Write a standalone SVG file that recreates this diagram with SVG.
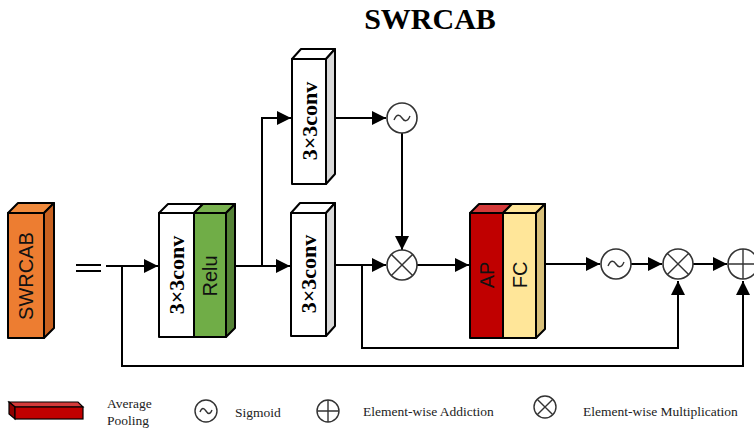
<svg xmlns="http://www.w3.org/2000/svg" width="754" height="430" viewBox="0 0 754 430">
  <style>
    .edge { fill: none; stroke: #000; stroke-width: 2; }
    .box { stroke: #000; stroke-width: 2; stroke-linejoin: round; }
    .op { fill: #fff; stroke: #333; stroke-width: 1.6; }
    .sym { fill: none; stroke: #333; stroke-width: 1.4; }
    .serifb { font-family: "Liberation Serif", "Times New Roman", serif; font-weight: bold; fill: #000; }
    .conv { font-family: "Liberation Serif", "Times New Roman", serif; font-weight: bold; font-size: 22px; fill: #000; }
    .sans { font-family: "Liberation Sans", Arial, sans-serif; fill: #111; }
    .legend { font-family: "Liberation Serif", "Times New Roman", serif; font-size: 13.5px; fill: #222; }
  </style>
  <defs>
    <marker id="arrow" markerUnits="userSpaceOnUse" markerWidth="16" markerHeight="14" refX="14" refY="7" orient="auto">
      <path d="M0,0 L14,7 L0,14 Z" fill="#000"/>
    </marker>
    <g id="sigmoid">
      <circle class="op" r="15"/>
      <path class="sym" d="M-8,2 C-5,-5 -2,-3 0,0 C2,3 5,5 8,-2"/>
    </g>
    <g id="mult">
      <circle class="op" r="15"/>
      <path class="sym" d="M-10.6,-10.6 L10.6,10.6 M-10.6,10.6 L10.6,-10.6"/>
    </g>
    <g id="plus">
      <circle class="op" r="15"/>
      <path class="sym" d="M-15,0 L15,0 M0,-15 L0,15"/>
    </g>
  </defs>

  <rect width="754" height="430" fill="#fff"/>

  <text x="430" y="29" class="serifb" font-size="30" text-anchor="middle">SWRCAB</text>

  <!-- connectors -->
  <g id="connectors">
    <!-- equals sign -->
    <path class="edge" d="M76,265 L101,265 M76,271 L101,271"/>
    <!-- input into first conv -->
    <path class="edge" d="M106,266 L158,266" marker-end="url(#arrow)"/>
    <!-- long residual to final addition -->
    <path class="edge" d="M122,266 L122,366 L743,366 L743,281" marker-end="url(#arrow)"/>
    <!-- relu output to lower conv -->
    <path class="edge" d="M236,266 L290,266" marker-end="url(#arrow)"/>
    <!-- branch to upper conv -->
    <path class="edge" d="M262,266 L262,118 L291,118" marker-end="url(#arrow)"/>
    <!-- upper conv to sigmoid -->
    <path class="edge" d="M336,118 L386,118" marker-end="url(#arrow)"/>
    <!-- sigmoid down to multiply -->
    <path class="edge" d="M402,133 L402,250" marker-end="url(#arrow)"/>
    <!-- lower conv to multiply -->
    <path class="edge" d="M336,265 L386,265" marker-end="url(#arrow)"/>
    <!-- inner residual to second multiply -->
    <path class="edge" d="M362,265 L362,348 L678,348 L678,281" marker-end="url(#arrow)"/>
    <!-- multiply to AP/FC -->
    <path class="edge" d="M417,265 L469,265" marker-end="url(#arrow)"/>
    <!-- FC to sigmoid -->
    <path class="edge" d="M546,264 L600,264" marker-end="url(#arrow)"/>
    <!-- sigmoid to multiply -->
    <path class="edge" d="M631,264 L662,264" marker-end="url(#arrow)"/>
    <!-- multiply to addition -->
    <path class="edge" d="M693,264 L727,264" marker-end="url(#arrow)"/>
  </g>

  <!-- SWRCAB block -->
  <g id="swrcab-block">
    <polygon class="box" fill="#F08A3C" points="8,213 18,203 54,203 44,213"/>
    <polygon class="box" fill="#C8611F" points="44,213 54,203 54,328 44,338"/>
    <rect class="box" fill="#ED7D31" x="8" y="213" width="36" height="125"/>
    <text class="sans" font-size="20" text-anchor="middle" dy="0.35em" transform="translate(26,276) rotate(-90)">SWRCAB</text>
  </g>

  <!-- first conv + relu -->
  <g id="conv-relu">
    <polygon class="box" fill="#fff" points="159,213 168,204 203,204 194,213"/>
    <polygon class="box" fill="#79B24F" points="194,213 203,204 235,204 226,213"/>
    <polygon class="box" fill="#548235" points="226,213 235,204 235,328 226,337"/>
    <rect class="box" fill="#fff" x="159" y="213" width="35" height="124"/>
    <rect class="box" fill="#70AD47" x="194" y="213" width="32" height="124"/>
    <text class="conv" text-anchor="middle" dy="0.35em" transform="translate(176.5,275) rotate(-90)">3×3conv</text>
    <text class="sans" font-size="20" text-anchor="middle" dy="0.35em" transform="translate(210,276) rotate(-90)">Relu</text>
  </g>

  <!-- upper conv -->
  <g id="conv-upper">
    <polygon class="box" fill="#fff" points="292,59 301,49 335,49 326,59"/>
    <polygon class="box" fill="#D9D9D9" points="326,59 335,49 335,174 326,184"/>
    <rect class="box" fill="#fff" x="292" y="59" width="34" height="125"/>
    <text class="conv" text-anchor="middle" dy="0.35em" transform="translate(309,121) rotate(-90)">3×3conv</text>
  </g>

  <!-- lower conv -->
  <g id="conv-lower">
    <polygon class="box" fill="#fff" points="291,213 300,203 335,203 326,213"/>
    <polygon class="box" fill="#D9D9D9" points="326,213 335,203 335,326 326,336"/>
    <rect class="box" fill="#fff" x="291" y="213" width="35" height="123"/>
    <text class="conv" text-anchor="middle" dy="0.35em" transform="translate(308.5,274) rotate(-90)">3×3conv</text>
  </g>

  <!-- AP + FC -->
  <g id="ap-fc">
    <polygon class="box" fill="#D43A3A" points="470,213 479,204 512,204 503,213"/>
    <polygon class="box" fill="#FFE699" points="503,213 512,204 545,204 536,213"/>
    <polygon class="box" fill="#D8C07A" points="536,213 545,204 545,329 536,338"/>
    <rect class="box" fill="#C00000" x="470" y="213" width="33" height="125"/>
    <rect class="box" fill="#FFE699" x="503" y="213" width="33" height="125"/>
    <text class="sans" font-size="20" text-anchor="middle" dy="0.35em" transform="translate(486.5,275) rotate(-90)">AP</text>
    <text class="sans" font-size="20" text-anchor="middle" dy="0.35em" transform="translate(519.5,275) rotate(-90)">FC</text>
  </g>

  <!-- operators -->
  <g id="sigmoid-1"><use href="#sigmoid" x="402" y="118"/></g>
  <g id="mult-1"><use href="#mult" x="402" y="265"/></g>
  <g id="sigmoid-2"><use href="#sigmoid" x="616" y="264"/></g>
  <g id="mult-2"><use href="#mult" x="678" y="264"/></g>
  <g id="add"><use href="#plus" x="743" y="264"/></g>

  <!-- legend -->
  <g id="legend">
    <polygon fill="#D43A3A" stroke="#000" stroke-width="1.2" points="9,402 78,402 83,407 15,407"/>
    <polygon fill="#8E0000" stroke="#000" stroke-width="1.2" points="9,402 15,407 15,419 9,414"/>
    <rect fill="#C00000" stroke="#000" stroke-width="1.2" x="15" y="407" width="68" height="12"/>
    <text class="legend" x="107" y="408">Average</text>
    <text class="legend" x="107" y="425">Pooling</text>

    <circle cx="206" cy="411" r="11" fill="none" stroke="#333" stroke-width="1.4"/>
    <path class="sym" d="M200,412 C202,407 204,408 206,411 C208,414 210,415 212,410"/>
    <text class="legend" x="235" y="417">Sigmoid</text>

    <circle cx="328" cy="411" r="11" fill="none" stroke="#333" stroke-width="1.4"/>
    <path class="sym" d="M317,411 L339,411 M328,400 L328,422"/>
    <text class="legend" x="363" y="416">Element-wise Addiction</text>

    <circle cx="545" cy="407" r="11" fill="none" stroke="#333" stroke-width="1.4"/>
    <path class="sym" d="M537.2,399.2 L552.8,414.8 M537.2,414.8 L552.8,399.2"/>
    <text class="legend" x="583" y="416">Element-wise Multiplication</text>
  </g>
</svg>
